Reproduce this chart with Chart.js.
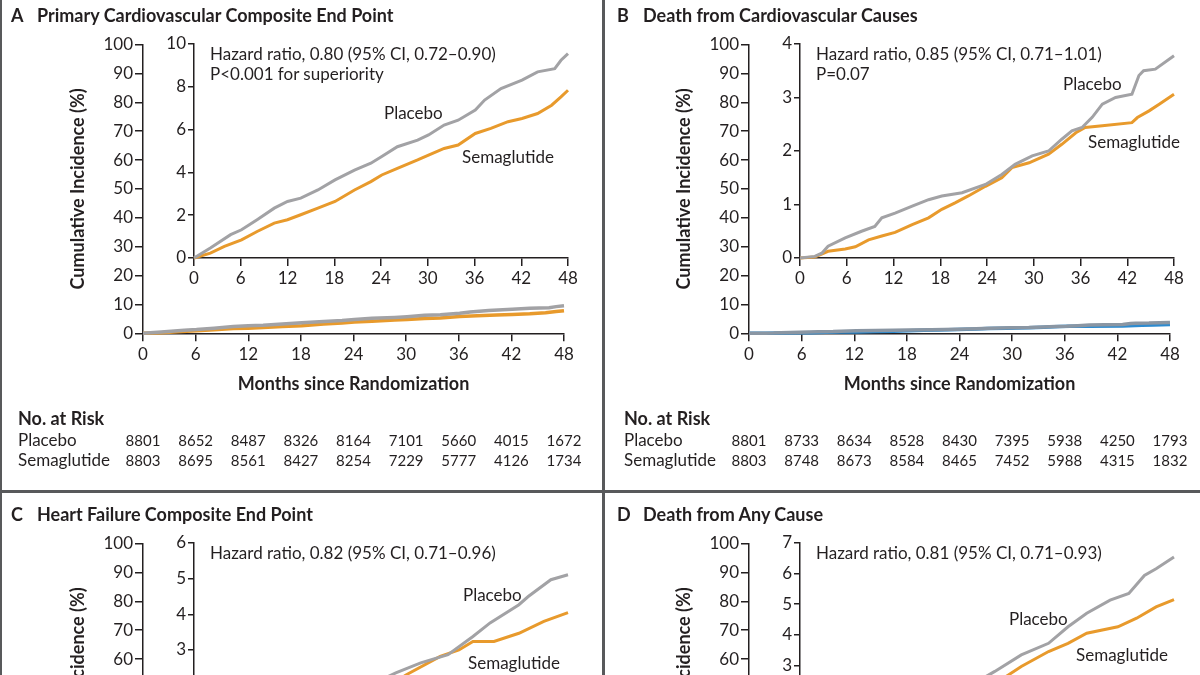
<!DOCTYPE html>
<html>
<head>
<meta charset="utf-8">
<script src="https://cdn.jsdelivr.net/npm/chart.js@4.4.1/dist/chart.umd.min.js"></script>
<style>
  html, body { margin: 0; padding: 0; background: #fff; }
  body { position: relative; width: 1200px; height: 675px; overflow: hidden;
         font-family: Lato, "Noto Sans", sans-serif; color: #231f20; }
  canvas { position: absolute; }
  .t { position: absolute; white-space: nowrap; line-height: 20px; font-size: 17px; }
  .ttl { font-weight: 700; font-size: 18px; }
  .rule { position: absolute; background: #58595b; }
</style>
</head>
<body>
<script>
/* 4-panel cumulative incidence (Kaplan-Meier style) with insets */

const FONT = "Lato";
const INK = "#231f20";
const GREY = "#a2a2a5";
const ORANGE = "#e89a2c";

const monthTicks = [0, 6, 12, 18, 24, 30, 36, 42, 48];

// ── A: primary CV composite ──
const aPlaMonths  = [0, 2.1, 4.7, 6.1, 8.1, 10.3, 12.0, 13.7, 15.9, 18.1, 20.6, 22.7, 24.1, 26.1, 28.7, 30.1, 32.1, 33.9, 36.1, 37.3, 39.4, 42.1, 44.1, 46.3, 47.1, 48];
const aPlaPct     = [0, 0.47, 1.09, 1.32, 1.79, 2.33, 2.64, 2.80, 3.18, 3.65, 4.11, 4.43, 4.74, 5.20, 5.51, 5.75, 6.21, 6.44, 6.91, 7.38, 7.92, 8.31, 8.70, 8.85, 9.24, 9.55];
const aSemaMonths = [0, 2.1, 3.9, 6.1, 8.1, 10.3, 12.0, 13.7, 15.9, 18.1, 20.6, 22.7, 24.1, 26.1, 28.7, 30.1, 32.1, 33.9, 36.1, 38.1, 40.3, 42.1, 44.1, 45.9, 47.1, 48];
const aSemaPct    = [0, 0.23, 0.54, 0.85, 1.24, 1.63, 1.79, 2.02, 2.33, 2.64, 3.18, 3.57, 3.88, 4.19, 4.58, 4.81, 5.12, 5.28, 5.82, 6.06, 6.37, 6.52, 6.75, 7.14, 7.53, 7.84];
const aRiskPla    = [8801, 8652, 8487, 8326, 8164, 7101, 5660, 4015, 1672];
const aRiskSema   = [8803, 8695, 8561, 8427, 8254, 7229, 5777, 4126, 1734];

// ── B: CV death ──
const bPlaMonths  = [0, 1.9, 2.8, 3.6, 5.8, 7.9, 9.6, 10.5, 12.2, 14.4, 16.5, 18.2, 20.8, 23.8, 25.9, 27.6, 29.8, 31.9, 33.6, 34.9, 36.2, 37.5, 38.8, 40.5, 42.6, 43.5, 44.1, 45.6, 48];
const bPlaPct     = [0, 0.03, 0.09, 0.22, 0.375, 0.5, 0.59, 0.75, 0.84, 0.97, 1.09, 1.16, 1.22, 1.375, 1.56, 1.75, 1.91, 2.0, 2.22, 2.375, 2.44, 2.63, 2.875, 3.0, 3.06, 3.41, 3.5, 3.53, 3.78];
const bSemaMonths = [0, 1.9, 3.6, 5.8, 7.1, 8.8, 10.5, 12.2, 14.4, 16.5, 18.2, 19.9, 21.6, 23.8, 25.9, 27.2, 29.4, 31.9, 33.6, 35.4, 36.6, 38.8, 42.6, 43.3, 44.8, 46.1, 48];
const bSemaPct    = [0, 0.02, 0.125, 0.17, 0.21, 0.34, 0.41, 0.48, 0.625, 0.75, 0.91, 1.03, 1.16, 1.34, 1.5, 1.69, 1.78, 1.94, 2.125, 2.34, 2.44, 2.47, 2.53, 2.625, 2.75, 2.875, 3.06];
const bRiskPla    = [8801, 8733, 8634, 8528, 8430, 7395, 5938, 4250, 1793];
const bRiskSema   = [8803, 8748, 8673, 8584, 8465, 7452, 5988, 4315, 1832];

// ── C: heart failure composite ──
const cPlaMonths  = [0, 6, 12, 18, 22, 25.9, 29.1, 32.6, 35.8, 38.0, 41.7, 42.9, 45.8, 48];
const cPlaPct     = [0, 0.55, 1.1, 1.6, 1.95, 2.36, 2.64, 2.87, 3.38, 3.76, 4.27, 4.5, 4.97, 5.11];
const cSemaMonths = [0, 6, 12, 18, 24, 27.2, 31.6, 34.0, 35.8, 38.5, 41.7, 44.9, 48];
const cSemaPct    = [0, 0.45, 0.9, 1.35, 1.85, 2.3, 2.82, 3.0, 3.24, 3.24, 3.47, 3.8, 4.05];

// ── D: death from any cause ──
const dPlaMonths  = [0, 6, 12, 18, 22, 25.0, 28.4, 31.9, 34.4, 36.8, 39.8, 42.2, 44.2, 45.7, 48];
const dPlaPct     = [0, 0.6, 1.25, 1.9, 2.35, 2.80, 3.34, 3.72, 4.26, 4.70, 5.13, 5.35, 5.94, 6.16, 6.54];
const dSemaMonths = [0, 6, 12, 18, 24, 26.5, 28.4, 31.9, 34.4, 36.8, 40.8, 43.2, 45.7, 48];
const dSemaPct    = [0, 0.5, 1.05, 1.6, 2.25, 2.64, 2.96, 3.45, 3.72, 4.05, 4.26, 4.54, 4.91, 5.15];

const panels = [
  { ox: 0, oy: 0, letter: "A", title: "Primary Cardiovascular Composite End Point",
    hr: ["Hazard ratio, 0.80 (95% CI, 0.72\u20130.90)", "P<0.001 for superiority"],
    insetMax: 10, insetStep: 2,
    pla: [aPlaMonths, aPlaPct], sema: [aSemaMonths, aSemaPct],
    mainColors: [GREY, ORANGE],
    lblPla: [384, 113], lblSema: [462, 157],
    risk: [aRiskPla, aRiskSema] },
  { ox: 606, oy: 0, letter: "B", title: "Death from Cardiovascular Causes",
    hr: ["Hazard ratio, 0.85 (95% CI, 0.71\u20131.01)", "P=0.07"],
    insetMax: 4, insetStep: 1,
    pla: [bPlaMonths, bPlaPct], sema: [bSemaMonths, bSemaPct],
    mainColors: ["#8a96a3", "#2d8bd0"],
    lblPla: [457, 84], lblSema: [482, 142],
    risk: [bRiskPla, bRiskSema] },
  { ox: 0, oy: 499, letter: "C", title: "Heart Failure Composite End Point",
    hr: ["Hazard ratio, 0.82 (95% CI, 0.71\u20130.96)"],
    insetMax: 6, insetStep: 1,
    pla: [cPlaMonths, cPlaPct], sema: [cSemaMonths, cSemaPct],
    mainColors: [GREY, ORANGE],
    lblPla: [463, 96], lblSema: [468, 164],
    risk: null },
  { ox: 606, oy: 499, letter: "D", title: "Death from Any Cause",
    hr: ["Hazard ratio, 0.81 (95% CI, 0.71\u20130.93)"],
    insetMax: 7, insetStep: 1,
    pla: [dPlaMonths, dPlaPct], sema: [dSemaMonths, dSemaPct],
    mainColors: [GREY, ORANGE],
    lblPla: [403, 120], lblSema: [470, 156],
    risk: null }
];

function pts(m, v) { return m.map((x, i) => ({ x: x, y: v[i] })); }

function addText(x, yc, txt, cls) {
  const d = document.createElement("div");
  d.className = "t" + (cls ? " " + cls : "");
  d.style.left = x + "px";
  d.style.top = (yc - 10) + "px";
  d.textContent = txt;
  document.body.appendChild(d);
}

function addCanvas(x, y, w, h) {
  const c = document.createElement("canvas");
  c.width = w; c.height = h;
  c.style.left = x + "px"; c.style.top = y + "px";
  c.style.width = w + "px"; c.style.height = h + "px";
  document.body.appendChild(c);
  return c;
}

function axisBase(tickLen, pad) {
  return {
    type: "linear",
    border: { display: true, color: INK, width: 1.5 },
    grid: { drawOnChartArea: false, drawTicks: true, tickLength: tickLen, color: INK, lineWidth: 1.5 },
    ticks: { color: INK, padding: pad, font: { family: FONT, size: 17 } }
  };
}

const riskPlugin = {
  id: "riskTable",
  afterDraw(chart, args, opts) {
    if (!opts.rows) return;
    const ctx = chart.ctx, xs = chart.scales.x;
    ctx.save();
    ctx.fillStyle = INK;
    ctx.textBaseline = "middle";
    ctx.textAlign = "left";
    ctx.font = "700 18px " + FONT;
    ctx.fillText("No. at Risk", 18, 419);
    const names = ["Placebo", "Semaglutide"];
    opts.rows.forEach((row, r) => {
      const y = 441 + 20 * r;
      ctx.font = "17px " + FONT;
      ctx.textAlign = "left";
      ctx.fillText(names[r], 18, y);
      ctx.font = "15px " + FONT;
      ctx.textAlign = "center";
      row.forEach((n, i) => ctx.fillText(String(n), xs.getPixelForValue(monthTicks[i]), y));
    });
    ctx.restore();
  }
};

function lineSet(label, data, color, w) {
  return { label, data, borderColor: color, borderWidth: w, pointRadius: 0,
           tension: 0, fill: false, clip: false };
}

panels.forEach(p => {
  // main chart 0–100 %
  const mainCv = addCanvas(p.ox, p.oy, 600, 490);
  const xm = axisBase(8, 3);
  xm.min = 0; xm.max = 48;
  xm.ticks.stepSize = 6;
  xm.title = { display: true, text: "Months since Randomization", color: INK,
               font: { family: FONT, size: 18, weight: "700" }, padding: { top: 0, bottom: 0 } };
  xm.afterFit = s => { s.height = 62; };
  const ym = axisBase(8, 2);
  ym.min = 0; ym.max = 100;
  ym.ticks.stepSize = 10;
  ym.title = { display: true, text: "Cumulative Incidence (%)", color: INK,
               font: { family: FONT, size: 18, weight: "700" }, padding: { top: 67.2, bottom: 0 } };
  ym.afterFit = s => { s.width = 143; };

  new Chart(mainCv.getContext("2d"), {
    type: "line",
    data: { datasets: [
      lineSet("Placebo", pts(p.pla[0], p.pla[1]), p.mainColors[0], 3.5),
      lineSet("Semaglutide", pts(p.sema[0], p.sema[1]), p.mainColors[1], 3.5)
    ] },
    options: {
      responsive: false, animation: false, events: [],
      layout: { padding: { left: 0, top: 44.5, right: 36, bottom: 94.7 } },
      plugins: { legend: { display: false }, tooltip: { enabled: false },
                 riskTable: { rows: p.risk } },
      scales: { x: xm, y: ym }
    },
    plugins: [riskPlugin]
  });

  // inset (zoomed y range)
  const insCv = addCanvas(p.ox + 150, p.oy, 440, 300);
  const xi = axisBase(8, 2);
  xi.min = 0; xi.max = 48;
  xi.ticks.stepSize = 6;
  xi.afterFit = s => { s.height = 32; };
  const yi = axisBase(6, 2);
  yi.min = 0; yi.max = p.insetMax;
  yi.ticks.stepSize = p.insetStep;
  yi.afterFit = s => { s.width = 44; };

  new Chart(insCv.getContext("2d"), {
    type: "line",
    data: { datasets: [
      lineSet("Placebo", pts(p.pla[0], p.pla[1]), GREY, 3),
      lineSet("Semaglutide", pts(p.sema[0], p.sema[1]), ORANGE, 3)
    ] },
    options: {
      responsive: false, animation: false, events: [],
      layout: { padding: { left: 0, top: 44, right: 22, bottom: 10 } },
      plugins: { legend: { display: false }, tooltip: { enabled: false } },
      scales: { x: xi, y: yi }
    }
  });

  // texts
  addText(p.ox + 11, p.oy + 15, p.letter, "ttl");
  addText(p.ox + 37, p.oy + 15, p.title, "ttl");
  p.hr.forEach((s, i) => addText(p.ox + 210, p.oy + 54 + 20 * i, s));
  addText(p.ox + p.lblPla[0], p.oy + p.lblPla[1], "Placebo");
  addText(p.ox + p.lblSema[0], p.oy + p.lblSema[1], "Semaglutide");
});

// panel frame lines
[[0, 0, 2, 675], [602, 0, 3, 675], [0, 490, 1200, 3]].forEach(r => {
  const d = document.createElement("div");
  d.className = "rule";
  d.style.left = r[0] + "px"; d.style.top = r[1] + "px";
  d.style.width = r[2] + "px"; d.style.height = r[3] + "px";
  document.body.appendChild(d);
});
</script>
</body>
</html>
